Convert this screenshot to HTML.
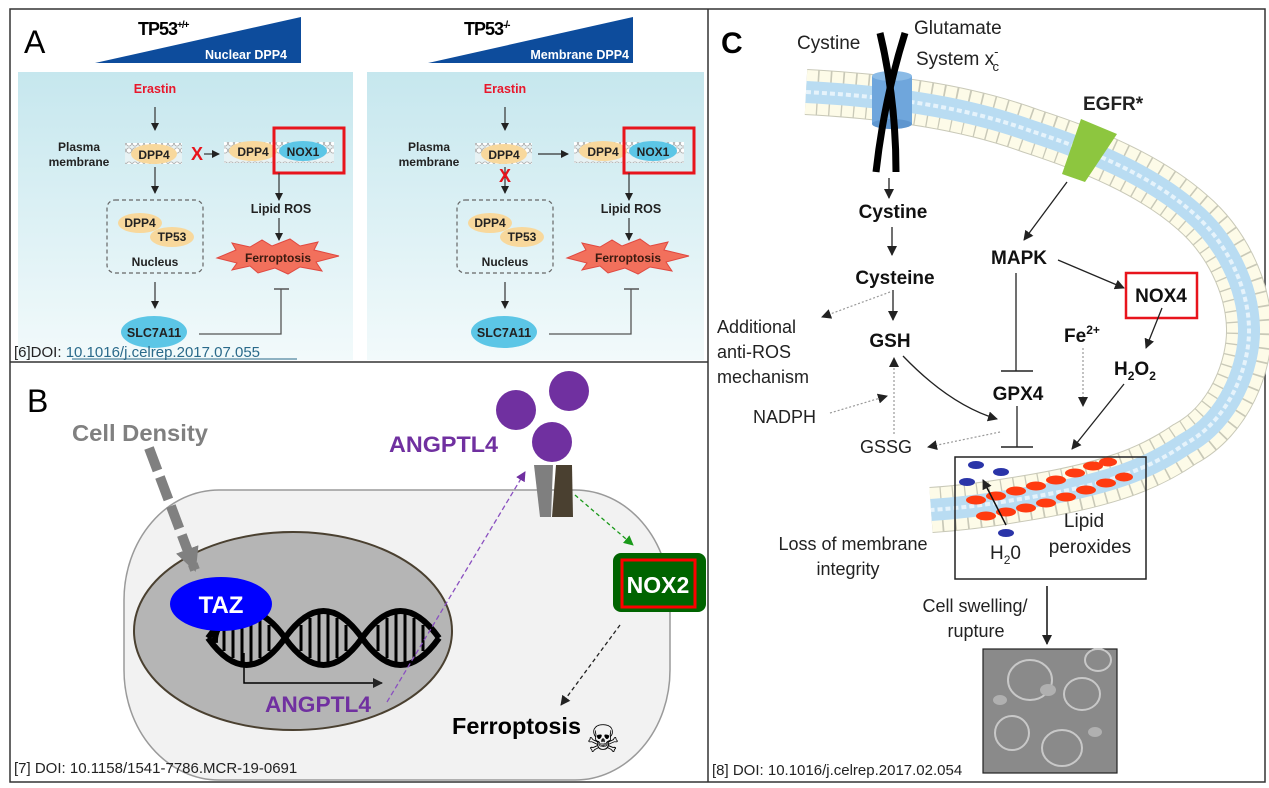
<!DOCTYPE html>
<html><head><meta charset="utf-8"><style>
html,body{margin:0;padding:0;background:#fff;}
svg{display:block;font-family:"Liberation Sans",sans-serif;}
</style></head><body>
<svg width="1269" height="788" viewBox="0 0 1269 788" xmlns="http://www.w3.org/2000/svg">
<defs>
<marker id="ah" markerWidth="8" markerHeight="8" refX="7" refY="4" orient="auto" markerUnits="userSpaceOnUse"><path d="M0,0 L8,4 L0,8 z" fill="#222"/></marker>
<marker id="ahp" markerWidth="10" markerHeight="10" refX="9" refY="5" orient="auto" markerUnits="userSpaceOnUse"><path d="M0,0 L10,5 L0,10 z" fill="#7030a0"/></marker>
<marker id="ahg" markerWidth="10" markerHeight="10" refX="9" refY="5" orient="auto" markerUnits="userSpaceOnUse"><path d="M0,0 L10,5 L0,10 z" fill="#1a9a1a"/></marker>
<marker id="ahk" markerWidth="10" markerHeight="10" refX="9" refY="5" orient="auto" markerUnits="userSpaceOnUse"><path d="M0,0 L10,5 L0,10 z" fill="#222"/></marker>
<marker id="ahgr" markerWidth="24" markerHeight="24" refX="22" refY="12" orient="auto" markerUnits="userSpaceOnUse"><path d="M0,0 L24,12 L0,24 z" fill="#808080"/></marker>
<linearGradient id="cy" x1="0" y1="0" x2="0" y2="1"><stop offset="0" stop-color="#c6e7ee"/><stop offset="1" stop-color="#f2fafb"/></linearGradient>
<pattern id="lip" width="6" height="21" patternUnits="userSpaceOnUse"><rect width="6" height="21" fill="#e8f2f4"/><circle cx="3" cy="3.5" r="2.6" fill="#fff" stroke="#aaa" stroke-width="0.8"/><circle cx="3" cy="17.5" r="2.6" fill="#fff" stroke="#aaa" stroke-width="0.8"/></pattern>
</defs>

<rect x="10" y="9" width="1255" height="773" fill="none" stroke="#333" stroke-width="1.5"/>
<line x1="708" y1="9" x2="708" y2="782" stroke="#333" stroke-width="1.5"/>
<line x1="10" y1="362" x2="708" y2="362" stroke="#333" stroke-width="1.5"/>

<!-- ============ PANEL A ============ -->
<text x="24" y="53" font-size="32">A</text>
<polygon points="95,63 301,17 301,63" fill="#0d4c9c"/>
<text x="138" y="35" font-size="18" font-weight="bold" letter-spacing="-1">TP53<tspan font-size="10" dy="-7">+/+</tspan></text>
<text x="287" y="59" font-size="12.5" font-weight="bold" fill="#fff" text-anchor="end">Nuclear DPP4</text>
<polygon points="428,63 633,17 633,63" fill="#0d4c9c"/>
<text x="464" y="35" font-size="18" font-weight="bold" letter-spacing="-1">TP53<tspan font-size="10" dy="-7">-/-</tspan></text>
<text x="629" y="59" font-size="12.5" font-weight="bold" fill="#fff" text-anchor="end">Membrane DPP4</text>

<rect x="18" y="72" width="335" height="288" fill="url(#cy)"/>
<rect x="367" y="72" width="337" height="288" fill="url(#cy)"/>

<g id="pa">
<text x="155" y="93" font-size="12.5" font-weight="bold" fill="#e8182c" text-anchor="middle">Erastin</text>
<line x1="155" y1="107" x2="155" y2="130" stroke="#333" stroke-width="1.2" marker-end="url(#ah)"/>
<text x="79" y="151" font-size="12" font-weight="bold" fill="#222" text-anchor="middle">Plasma</text>
<text x="79" y="166" font-size="12" font-weight="bold" fill="#222" text-anchor="middle">membrane</text>
<rect x="125" y="143" width="57" height="21" fill="url(#lip)"/>
<ellipse cx="154" cy="154" rx="23" ry="10" fill="#f8d89c"/>
<text x="154" y="159" font-size="12" font-weight="bold" fill="#222" text-anchor="middle">DPP4</text>
<rect x="224" y="142" width="110" height="21" fill="url(#lip)"/>
<ellipse cx="253" cy="151" rx="24" ry="10" fill="#f8d89c"/>
<text x="253" y="156" font-size="12" font-weight="bold" fill="#222" text-anchor="middle">DPP4</text>
<ellipse cx="303" cy="151" rx="24" ry="10" fill="#5cc6e6"/>
<text x="303" y="156" font-size="12" font-weight="bold" fill="#222" text-anchor="middle">NOX1</text>
<rect x="274" y="128" width="70" height="45" fill="none" stroke="#e8141c" stroke-width="3"/>
<line x1="279" y1="173" x2="279" y2="200" stroke="#333" stroke-width="1.2" marker-end="url(#ah)"/>
<text x="281" y="213" font-size="12.5" font-weight="bold" fill="#222" text-anchor="middle">Lipid ROS</text>
<line x1="279" y1="218" x2="279" y2="240" stroke="#333" stroke-width="1.2" marker-end="url(#ah)"/>
<polygon points="217,258 236,250 232,243 250,247 262,240 272,246 290,239 300,246 318,242 314,250 339,256 316,262 322,271 300,267 288,274 275,268 258,273 250,266 232,270 237,263" fill="#f2705c" stroke="#e04840" stroke-width="1"/>
<text x="278" y="262" font-size="12" font-weight="bold" fill="#3a1a10" text-anchor="middle">Ferroptosis</text>
<rect x="107" y="200" width="96" height="73" rx="8" fill="none" stroke="#666" stroke-width="1.2" stroke-dasharray="4,3"/>
<ellipse cx="140" cy="223" rx="22" ry="10" fill="#f8d89c"/>
<ellipse cx="172" cy="237" rx="22" ry="10" fill="#f8d89c"/>
<text x="140" y="227" font-size="12" font-weight="bold" fill="#222" text-anchor="middle">DPP4</text>
<text x="172" y="241" font-size="12" font-weight="bold" fill="#222" text-anchor="middle">TP53</text>
<text x="155" y="266" font-size="12" font-weight="bold" fill="#222" text-anchor="middle">Nucleus</text>
<line x1="155" y1="282" x2="155" y2="308" stroke="#333" stroke-width="1.2" marker-end="url(#ah)"/>
<ellipse cx="154" cy="332" rx="33" ry="16" fill="#5cc6e6"/>
<text x="154" y="337" font-size="12.5" font-weight="bold" fill="#222" text-anchor="middle">SLC7A11</text>
<polyline points="199,334 281,334 281,289" fill="none" stroke="#555" stroke-width="1.3"/>
<line x1="274" y1="289" x2="289" y2="289" stroke="#555" stroke-width="1.5"/>
</g>
<line x1="155" y1="167" x2="155" y2="193" stroke="#333" stroke-width="1.2" marker-end="url(#ah)"/>
<text x="197" y="160" font-size="18" font-weight="bold" fill="#e8141c" text-anchor="middle">X</text>
<line x1="204" y1="154" x2="219" y2="154" stroke="#333" stroke-width="1.2" marker-end="url(#ah)"/>
<use href="#pa" x="350" y="0"/>
<line x1="505" y1="167" x2="505" y2="193" stroke="#333" stroke-width="1.2" marker-end="url(#ah)"/>
<text x="505" y="182" font-size="18" font-weight="bold" fill="#e8141c" text-anchor="middle">X</text>
<line x1="538" y1="154" x2="568" y2="154" stroke="#333" stroke-width="1.2" marker-end="url(#ah)"/>

<text x="14" y="357" font-size="15" fill="#222">[6]DOI: <tspan fill="#2a6a8a">10.1016/j.celrep.2017.07.055</tspan></text>
<line x1="72" y1="359" x2="297" y2="359" stroke="#2a6a8a" stroke-width="1"/>

<!-- ============ PANEL B ============ -->
<text x="27" y="412" font-size="32">B</text>
<text x="72" y="441" font-size="23" font-weight="bold" fill="#808080" textLength="136" lengthAdjust="spacingAndGlyphs">Cell Density</text>
<rect x="124" y="490" width="546" height="290" rx="95" ry="110" fill="#f2f2f2" stroke="#9a9a9a" stroke-width="1.5"/>
<ellipse cx="293" cy="631" rx="159" ry="99" fill="#b5b5b5" stroke="#4a4030" stroke-width="2"/>
<line x1="149" y1="448" x2="195" y2="570" stroke="#808080" stroke-width="10" stroke-dasharray="24,7" marker-end="url(#ahgr)"/>
<g stroke="#000" fill="none">
<path d="M215,643 Q214,630 225,620 M208,638 Q246.5,692 285,638 Q323.5,584 362,638 Q400.5,692 439,638" stroke-width="6"/>
<path d="M208,638 Q246.5,584 285,638 Q323.5,692 362,638 Q400.5,584 439,638" stroke-width="6"/>
<g stroke-width="3">
<line x1="224" y1="625" x2="224" y2="651"/><line x1="233" y1="618" x2="233" y2="658"/><line x1="242" y1="614" x2="242" y2="662"/><line x1="251" y1="614" x2="251" y2="662"/><line x1="260" y1="618" x2="260" y2="658"/><line x1="269" y1="625" x2="269" y2="651"/>
<line x1="301" y1="625" x2="301" y2="651"/><line x1="310" y1="618" x2="310" y2="658"/><line x1="319" y1="614" x2="319" y2="662"/><line x1="328" y1="614" x2="328" y2="662"/><line x1="337" y1="618" x2="337" y2="658"/><line x1="346" y1="625" x2="346" y2="651"/>
<line x1="378" y1="625" x2="378" y2="651"/><line x1="387" y1="618" x2="387" y2="658"/><line x1="396" y1="614" x2="396" y2="662"/><line x1="405" y1="614" x2="405" y2="662"/><line x1="414" y1="618" x2="414" y2="658"/><line x1="423" y1="625" x2="423" y2="651"/>
</g></g>
<ellipse cx="221" cy="604" rx="51" ry="27" fill="#0000ff"/>
<text x="221" y="613" font-size="24" font-weight="bold" fill="#fff" text-anchor="middle">TAZ</text>
<polyline points="244,653 244,683 382,683" fill="none" stroke="#000" stroke-width="1.5" marker-end="url(#ahk)"/>
<text x="265" y="712" font-size="22" font-weight="bold" fill="#7030a0" textLength="106" lengthAdjust="spacingAndGlyphs">ANGPTL4</text>
<line x1="387" y1="702" x2="525" y2="472" stroke="#8a50c0" stroke-width="1.3" stroke-dasharray="5,3" marker-end="url(#ahp)"/>
<circle cx="516" cy="410" r="20" fill="#7030a0"/>
<circle cx="569" cy="391" r="20" fill="#7030a0"/>
<circle cx="552" cy="442" r="20" fill="#7030a0"/>
<text x="389" y="452" font-size="22" font-weight="bold" fill="#7030a0" textLength="109" lengthAdjust="spacingAndGlyphs">ANGPTL4</text>
<polygon points="534,465 553,465 551,517 540,517" fill="#7f7f7f"/>
<polygon points="556,465 572,465 573,517 552,517" fill="#4a4030"/>
<line x1="575" y1="495" x2="633" y2="545" stroke="#1a9a1a" stroke-width="1.3" stroke-dasharray="4,3" marker-end="url(#ahg)"/>
<rect x="613" y="553" width="93" height="59" rx="8" fill="#006400"/>
<rect x="622" y="560" width="73" height="47" fill="none" stroke="#ff0000" stroke-width="3"/>
<text x="658" y="593" font-size="23" font-weight="bold" fill="#fff" text-anchor="middle">NOX2</text>
<line x1="620" y1="625" x2="561" y2="705" stroke="#222" stroke-width="1.3" stroke-dasharray="4,3" marker-end="url(#ahk)"/>
<text x="452" y="734" font-size="23" font-weight="bold" fill="#000" textLength="129" lengthAdjust="spacingAndGlyphs">Ferroptosis</text>
<text x="603" y="752" font-size="38" fill="#000" text-anchor="middle" font-family="DejaVu Sans">☠</text>
<text x="14" y="773" font-size="15" fill="#222">[7] DOI: 10.1158/1541-7786.MCR-19-0691</text>

<!-- ============ PANEL C ============ -->
<text x="721" y="53" font-size="30" font-weight="bold">C</text>
<g fill="none">
<path d="M806,92 C880,96 960,105 1031,131 C1090,150 1150,175 1192,212 C1225,240 1248,285 1249,328 C1250,365 1230,420 1185,444 C1150,468 1110,485 1014,500 C985,505 960,508 931,510" stroke="#c9c9b8" stroke-width="46"/>
<path d="M806,92 C880,96 960,105 1031,131 C1090,150 1150,175 1192,212 C1225,240 1248,285 1249,328 C1250,365 1230,420 1185,444 C1150,468 1110,485 1014,500 C985,505 960,508 931,510" stroke="#fdfbe8" stroke-width="44" stroke-dasharray="11,1.5"/>
<path d="M806,92 C880,96 960,105 1031,131 C1090,150 1150,175 1192,212 C1225,240 1248,285 1249,328 C1250,365 1230,420 1185,444 C1150,468 1110,485 1014,500 C985,505 960,508 931,510" stroke="#b9dcf2" stroke-width="22"/>
<path d="M806,92 C880,96 960,105 1031,131 C1090,150 1150,175 1192,212 C1225,240 1248,285 1249,328 C1250,365 1230,420 1185,444 C1150,468 1110,485 1014,500 C985,505 960,508 931,510" stroke="#e6f3fb" stroke-width="4" stroke-dasharray="5,3"/>
</g>
<rect x="872" y="76" width="40" height="48" fill="#6fa6dc"/>
<ellipse cx="892" cy="76" rx="20" ry="5" fill="#8bbbe6"/>
<ellipse cx="892" cy="124" rx="20" ry="5" fill="#5e96cf"/>
<path d="M880,33 Q896,100 896,172" stroke="#000" stroke-width="7" fill="none"/>
<path d="M905,33 Q884,100 876,172" stroke="#000" stroke-width="7" fill="none"/>
<text x="797" y="49" font-size="19" fill="#222">Cystine</text>
<text x="914" y="34" font-size="19" fill="#222">Glutamate</text>
<text x="916" y="65" font-size="19" fill="#222">System x<tspan font-size="13" dy="-9">-</tspan><tspan font-size="13" dx="-6" dy="15">c</tspan></text>
<text x="1083" y="110" font-size="19" font-weight="bold" fill="#222">EGFR*</text>
<polygon points="1081,119 1117,134 1085,182 1062,174" fill="#8dc63f"/>
<line x1="1067" y1="182" x2="1024" y2="240" stroke="#222" stroke-width="1.3" marker-end="url(#ahk)"/>

<line x1="889" y1="178" x2="889" y2="198" stroke="#222" stroke-width="1.3" marker-end="url(#ahk)"/>
<text x="893" y="218" font-size="19" font-weight="bold" fill="#111" text-anchor="middle">Cystine</text>
<line x1="892" y1="227" x2="892" y2="255" stroke="#222" stroke-width="1.3" marker-end="url(#ahk)"/>
<text x="895" y="284" font-size="19" font-weight="bold" fill="#111" text-anchor="middle">Cysteine</text>
<line x1="893" y1="290" x2="893" y2="320" stroke="#222" stroke-width="1.3" marker-end="url(#ahk)"/>
<text x="890" y="347" font-size="19" font-weight="bold" fill="#111" text-anchor="middle">GSH</text>
<line x1="890" y1="292" x2="822" y2="317" stroke="#999" stroke-width="1.2" stroke-dasharray="2,2" marker-end="url(#ahk)"/>
<text x="717" y="333" font-size="18" fill="#222">Additional</text>
<text x="717" y="358" font-size="18" fill="#222">anti-ROS</text>
<text x="717" y="383" font-size="18" fill="#222">mechanism</text>
<text x="1019" y="264" font-size="19" font-weight="bold" fill="#111" text-anchor="middle">MAPK</text>
<line x1="1058" y1="260" x2="1124" y2="288" stroke="#222" stroke-width="1.3" marker-end="url(#ahk)"/>
<rect x="1126" y="273" width="71" height="45" fill="none" stroke="#e8141c" stroke-width="2.5"/>
<text x="1161" y="302" font-size="19" font-weight="bold" fill="#111" text-anchor="middle">NOX4</text>
<line x1="1162" y1="308" x2="1146" y2="348" stroke="#222" stroke-width="1.3" marker-end="url(#ahk)"/>
<text x="1064" y="342" font-size="19" font-weight="bold" fill="#111">Fe<tspan font-size="12" dy="-8">2+</tspan></text>
<text x="1114" y="375" font-size="19" font-weight="bold" fill="#111">H<tspan font-size="12" dy="5">2</tspan><tspan dy="-5">O</tspan><tspan font-size="12" dy="5">2</tspan></text>
<line x1="1016" y1="273" x2="1016" y2="371" stroke="#222" stroke-width="1.3"/>
<line x1="1001" y1="371" x2="1033" y2="371" stroke="#222" stroke-width="1.5"/>
<text x="1018" y="400" font-size="19" font-weight="bold" fill="#111" text-anchor="middle">GPX4</text>
<line x1="1017" y1="406" x2="1017" y2="447" stroke="#222" stroke-width="1.3"/>
<line x1="1001" y1="447" x2="1033" y2="447" stroke="#222" stroke-width="1.5"/>
<path d="M903,356 Q950,405 997,419" fill="none" stroke="#222" stroke-width="1.3" marker-end="url(#ahk)"/>
<text x="753" y="423" font-size="18" fill="#222">NADPH</text>
<line x1="830" y1="413" x2="887" y2="396" stroke="#999" stroke-width="1.2" stroke-dasharray="2,2" marker-end="url(#ahk)"/>
<text x="860" y="453" font-size="18" fill="#222">GSSG</text>
<line x1="894" y1="434" x2="894" y2="358" stroke="#999" stroke-width="1.2" stroke-dasharray="2,2" marker-end="url(#ahk)"/>
<line x1="1000" y1="432" x2="928" y2="447" stroke="#999" stroke-width="1.2" stroke-dasharray="2,2" marker-end="url(#ahk)"/>
<line x1="1083" y1="348" x2="1083" y2="406" stroke="#999" stroke-width="1.2" stroke-dasharray="2,2" marker-end="url(#ahk)"/>
<line x1="1124" y1="384" x2="1072" y2="449" stroke="#222" stroke-width="1.3" marker-end="url(#ahk)"/>

<rect x="955" y="457" width="191" height="122" fill="none" stroke="#222" stroke-width="1.5"/>
<g fill="#ff3b10">
<ellipse cx="976" cy="500" rx="10" ry="4.5"/><ellipse cx="996" cy="496" rx="10" ry="4.5"/><ellipse cx="1016" cy="491" rx="10" ry="4.5"/><ellipse cx="1036" cy="486" rx="10" ry="4.5"/><ellipse cx="1056" cy="480" rx="10" ry="4.5"/><ellipse cx="1075" cy="473" rx="10" ry="4.5"/><ellipse cx="1093" cy="466" rx="10" ry="4.5"/><ellipse cx="1108" cy="462" rx="9" ry="4.5"/>
<ellipse cx="986" cy="516" rx="10" ry="4.5"/><ellipse cx="1006" cy="512" rx="10" ry="4.5"/><ellipse cx="1026" cy="508" rx="10" ry="4.5"/><ellipse cx="1046" cy="503" rx="10" ry="4.5"/><ellipse cx="1066" cy="497" rx="10" ry="4.5"/><ellipse cx="1086" cy="490" rx="10" ry="4.5"/><ellipse cx="1106" cy="483" rx="10" ry="4.5"/><ellipse cx="1124" cy="477" rx="9" ry="4.5"/>
</g>
<g fill="#2a34a8">
<ellipse cx="976" cy="465" rx="8" ry="4"/><ellipse cx="967" cy="482" rx="8" ry="4"/><ellipse cx="1001" cy="472" rx="8" ry="4"/><ellipse cx="1006" cy="533" rx="8" ry="4"/>
</g>
<line x1="1006" y1="525" x2="983" y2="480" stroke="#111" stroke-width="1.5" marker-end="url(#ahk)"/>
<text x="990" y="559" font-size="19" fill="#222">H<tspan font-size="12" dy="5">2</tspan><tspan dy="-5">0</tspan></text>
<text x="1084" y="527" font-size="19" fill="#222" text-anchor="middle">Lipid</text>
<text x="1090" y="553" font-size="19" fill="#222" text-anchor="middle">peroxides</text>
<text x="853" y="550" font-size="18" fill="#222" text-anchor="middle">Loss of membrane</text>
<text x="848" y="575" font-size="18" fill="#222" text-anchor="middle">integrity</text>
<text x="975" y="612" font-size="18" fill="#222" text-anchor="middle">Cell swelling/</text>
<text x="976" y="637" font-size="18" fill="#222" text-anchor="middle">rupture</text>
<line x1="1047" y1="586" x2="1047" y2="644" stroke="#111" stroke-width="1.5" marker-end="url(#ahk)"/>
<rect x="983" y="649" width="134" height="124" fill="#8a8a8a" stroke="#222" stroke-width="1.2"/>
<g fill="none" stroke="#c8c8c8" stroke-width="2">
<ellipse cx="1030" cy="680" rx="22" ry="20"/><ellipse cx="1082" cy="694" rx="18" ry="16"/><ellipse cx="1012" cy="733" rx="17" ry="17"/><ellipse cx="1062" cy="748" rx="20" ry="18"/><ellipse cx="1098" cy="660" rx="13" ry="11"/>
</g>
<g fill="#b0b0b0"><ellipse cx="1048" cy="690" rx="8" ry="6"/><ellipse cx="1000" cy="700" rx="7" ry="5"/><ellipse cx="1095" cy="732" rx="7" ry="5"/></g>
<text x="712" y="775" font-size="15" fill="#222">[8] DOI: 10.1016/j.celrep.2017.02.054</text>
</svg>
</body></html>
